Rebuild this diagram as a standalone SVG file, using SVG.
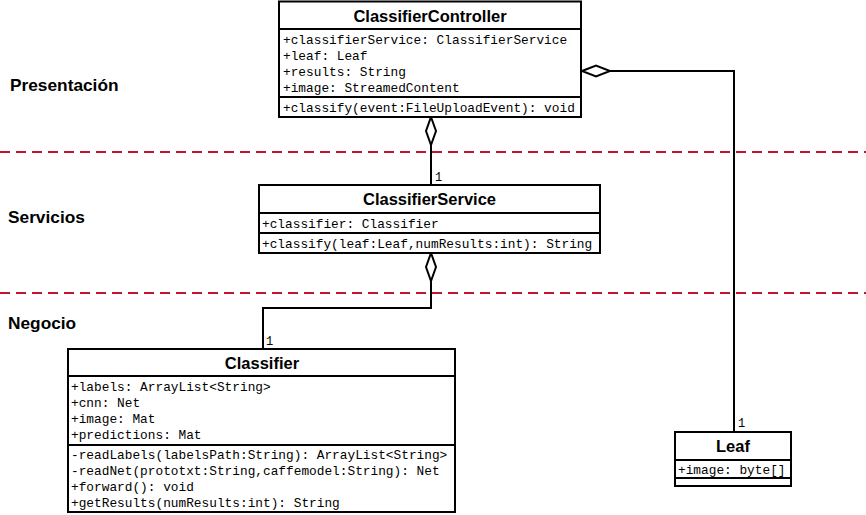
<svg xmlns="http://www.w3.org/2000/svg" width="866" height="515" viewBox="0 0 866 515">
<style>
.box{fill:#fff;stroke:#000;stroke-width:2}
.sep{stroke:#000;stroke-width:2}
.title{font-family:"Liberation Sans",Arial,sans-serif;font-weight:bold;font-size:16.5px;text-anchor:middle;fill:#000}
.mono{font-family:"Liberation Mono","Courier New",monospace;font-size:12.8px;fill:#000}
.layer{font-family:"Liberation Sans",Arial,sans-serif;font-weight:bold;font-size:17.3px;fill:#000}
.dash{stroke:#c4122f;stroke-width:2;stroke-dasharray:10,6}
.conn{fill:none;stroke:#000;stroke-width:2}
.dia{fill:#fff;stroke:#000;stroke-width:2}
.mult{font-family:"Liberation Mono","Courier New",monospace;font-size:12px;fill:#000}
</style>
<rect width="866" height="515" fill="#fff"/>
<g id="layers">
<line class="dash" x1="0" y1="152" x2="866" y2="152"/>
<line class="dash" x1="0" y1="293" x2="866" y2="293"/>
<text class="layer" x="10" y="91">Presentación</text>
<text class="layer" x="8" y="223">Servicios</text>
<text class="layer" x="8" y="329">Negocio</text>
</g>
<g id="connectors">
<path class="conn" d="M431,145 V185"/>
<path class="dia" d="M431,117 L436,131 L431,145 L426,131 Z"/>
<text class="mult" x="435" y="181">1</text>
<path class="conn" d="M431,281 V308 H263 V349"/>
<path class="dia" d="M431,253 L436,267 L431,281 L426,267 Z"/>
<text class="mult" x="266" y="345">1</text>
<path class="conn" d="M610,71 H734 V432"/>
<path class="dia" d="M582,71 L596,65.5 L610,71 L596,76.5 Z"/>
<text class="mult" x="738" y="427">1</text>
</g>
<g id="ClassifierController">
<rect class="box" x="279" y="1.5" width="302" height="115.5"/>
<line class="sep" x1="279" y1="29" x2="581" y2="29"/>
<line class="sep" x1="279" y1="97" x2="581" y2="97"/>
<text class="title" x="430" y="22">ClassifierController</text>
<text class="mono" x="283" y="44">+classifierService: ClassifierService</text>
<text class="mono" x="283" y="60">+leaf: Leaf</text>
<text class="mono" x="283" y="76">+results: String</text>
<text class="mono" x="283" y="92">+image: StreamedContent</text>
<text class="mono" x="283" y="112">+classify(event:FileUploadEvent): void</text>
</g>
<g id="ClassifierService">
<rect class="box" x="259" y="185" width="341" height="68"/>
<line class="sep" x1="259" y1="213" x2="600" y2="213"/>
<line class="sep" x1="259" y1="233" x2="600" y2="233"/>
<text class="title" x="429.5" y="205">ClassifierService</text>
<text class="mono" x="262" y="228">+classifier: Classifier</text>
<text class="mono" x="262" y="248">+classify(leaf:Leaf,numResults:int): String</text>
</g>
<g id="Classifier">
<rect class="box" x="68" y="349" width="387" height="163"/>
<line class="sep" x1="68" y1="376" x2="455" y2="376"/>
<line class="sep" x1="68" y1="445" x2="455" y2="445"/>
<text class="title" x="262" y="369">Classifier</text>
<text class="mono" x="71" y="391">+labels: ArrayList&lt;String&gt;</text>
<text class="mono" x="71" y="407">+cnn: Net</text>
<text class="mono" x="71" y="423">+image: Mat</text>
<text class="mono" x="71" y="439">+predictions: Mat</text>
<text class="mono" x="71" y="459">-readLabels(labelsPath:String): ArrayList&lt;String&gt;</text>
<text class="mono" x="71" y="475">-readNet(prototxt:String,caffemodel:String): Net</text>
<text class="mono" x="71" y="491">+forward(): void</text>
<text class="mono" x="71" y="507">+getResults(numResults:int): String</text>
</g>
<g id="Leaf">
<rect class="box" x="675" y="432" width="116" height="54"/>
<line class="sep" x1="675" y1="460" x2="791" y2="460"/>
<line class="sep" x1="675" y1="478" x2="791" y2="478"/>
<text class="title" x="733" y="452">Leaf</text>
<text class="mono" x="678" y="474">+image: byte[]</text>
</g>
</svg>
